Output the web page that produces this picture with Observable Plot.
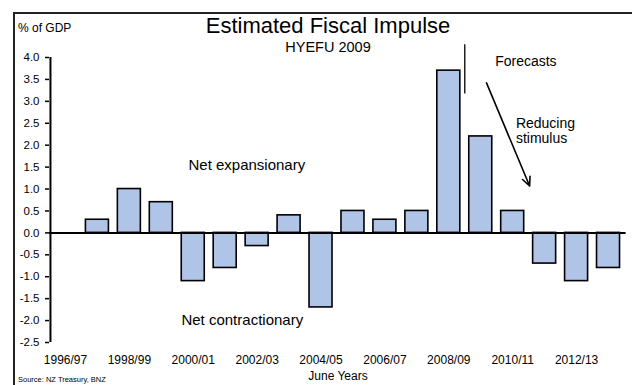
<!DOCTYPE html>
<html>
<head>
<meta charset="utf-8">
<script src="https://cdn.jsdelivr.net/npm/d3@7"></script>
<script src="https://cdn.jsdelivr.net/npm/@observablehq/plot@0.6"></script>
<style>
  html, body { margin: 0; padding: 0; background: #fff; }
  #wrap { position: relative; width: 632px; height: 385px; overflow: hidden; font-family: "Liberation Sans", Arial, sans-serif; }
  #frame { position: absolute; left: 13px; top: 12px; width: 700px; height: 500px; border-top: 2px solid #222; border-left: 2px solid #222; box-sizing: border-box; }
  #wrap svg { position: absolute; left: 0; top: 0; }
  .t { position: absolute; white-space: nowrap; color: #000; line-height: 1; }
</style>
</head>
<body>
<div id="wrap">
  <div id="frame"></div>
</div>
<script>
// June years, fiscal impulse as % of GDP
const years = ["1996/97","1997/98","1998/99","1999/00","2000/01","2001/02","2002/03","2003/04","2004/05",
               "2005/06","2006/07","2007/08","2008/09","2009/10","2010/11","2011/12","2012/13","2013/14"];
const impulse = [0, 0.3, 1.0, 0.7, -1.1, -0.8, -0.3, 0.4, -1.7, 0.5, 0.3, 0.5, 3.7, 2.2, 0.5, -0.7, -1.1, -0.8];
const yTicks = [4.0, 3.5, 3.0, 2.5, 2.0, 1.5, 1.0, 0.5, 0.0, -0.5, -1.0, -1.5, -2.0, -2.5];
const xTickYears = ["1996/97","1998/99","2000/01","2002/03","2004/05","2006/07","2008/09","2010/11","2012/13"];

const rows = years.map((year, i) => ({year, i, v: impulse[i]}));
const idx = y => years.indexOf(y);
const half = 0.36;

const chart = Plot.plot({
  width: 632,
  height: 385,
  marginLeft: 49,
  marginRight: 8,
  marginTop: 57,
  marginBottom: 43,
  style: {fontFamily: "'Liberation Sans', Arial, sans-serif", background: "transparent", color: "#000"},
  x: {type: "linear", domain: [-0.5, years.length - 0.5]},
  y: {domain: [-2.5, 4.0]},
  marks: [
    Plot.rectY(rows, {
      x1: d => d.i - half, x2: d => d.i + half, y: "v",
      fill: "#b0c4e8", stroke: "#000", strokeWidth: 1.6
    }),
    Plot.ruleY([0], {x1: -0.5, x2: years.length - 0.45, stroke: "#000", strokeWidth: 2}),
    Plot.ruleX([-0.47], {y1: -2.5, y2: 4.0, stroke: "#000", strokeWidth: 2}),
    Plot.axisY({
      ticks: yTicks, tickFormat: d => d.toFixed(1), tickSize: 4, tickPadding: 6,
      fontSize: 11.5, label: null, strokeWidth: 1.5
    }),
    Plot.axisX({
      ticks: xTickYears.map(idx), tickFormat: i => years[i], tickSize: 0, tickPadding: 13,
      fontSize: 12, label: null
    }),
    // forecast boundary and direction of stimulus
    Plot.ruleX([idx("2008/09") + 0.5], {y1: 3.17, y2: 4.29, stroke: "#000", strokeWidth: 1.3}),
    Plot.arrow([{}], {
      x1: () => 13.18, y1: () => 3.42, x2: () => 14.53, y2: () => 1.07,
      stroke: "#000", strokeWidth: 1.6, headLength: 9, headAngle: 50
    }),
    Plot.text(["Forecasts"], {x: () => 13.45, y: () => 3.9, text: d => d, textAnchor: "start", fontSize: 14}),
    Plot.text(["Reducing", "stimulus"], {
      x: () => 14.1, y: (d, i) => 2.5 - i * 0.34, text: d => d, textAnchor: "start", fontSize: 14
    }),
    Plot.text(["Net expansionary"], {x: () => 3.85, y: () => 1.55, text: d => d, textAnchor: "start", fontSize: 15}),
    Plot.text(["Net contractionary"], {x: () => 3.63, y: () => -2.0, text: d => d, textAnchor: "start", fontSize: 15})
  ]
});
document.getElementById("wrap").appendChild(chart);

// titles and labels around the plot area
const labels = [
  {text: "Estimated Fiscal Impulse", left: 328, base: 35, size: 22, center: true},
  {text: "HYEFU 2009", left: 328, base: 53, size: 14.5, center: true},
  {text: "% of GDP", left: 18, base: 33, size: 12},
  {text: "June Years", left: 338, base: 381, size: 12, center: true},
  {text: "Source: NZ Treasury, BNZ", left: 18, base: 383, size: 7.5}
];
const wrap = document.getElementById("wrap");
for (const l of labels) {
  const el = document.createElement("div");
  el.className = "t";
  el.textContent = l.text;
  el.style.fontSize = l.size + "px";
  el.style.top = (l.base - l.size * 0.9) + "px";
  el.style.left = l.left + "px";
  if (l.center) el.style.transform = "translateX(-50%)";
  wrap.appendChild(el);
}
</script>
</body>
</html>
